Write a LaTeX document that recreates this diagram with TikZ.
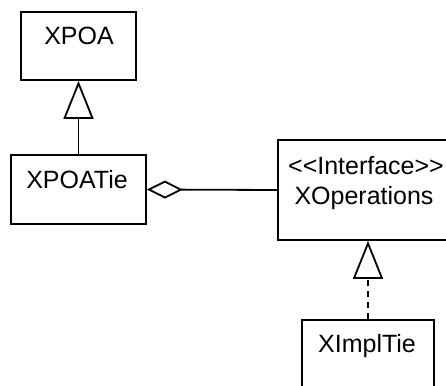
\documentclass[tikz,border=0pt]{standalone}
\usepackage{fontspec}
\setmainfont{Liberation Sans}
\usetikzlibrary{arrows.meta}
\begin{document}
\begin{tikzpicture}[x=1pt,y=-1pt,
  classbox/.style={draw=black,line width=1.8pt,rectangle,inner sep=0pt},
  lbl/.style={inner sep=0pt,anchor=base,font=\fontsize{25}{30}\selectfont},
  conn/.style={line width=1.8pt,draw=black},
  gen/.style={-{Triangle[open,length=38pt,width=30pt]}},
  agg/.style={{Diamond[open,length=36pt,width=18pt]}-},
  realize/.style={dash pattern=on 6pt off 5pt}]
\useasboundingbox (0,0) rectangle (446,385);
\clip (0,0) rectangle (446,385);
% classes
\node[classbox,minimum width=115pt,minimum height=68pt] (xpoa) at (78.5,46) {};
\node[lbl] (xpoa-t) at (79,45) {XPOA};
\node[classbox,minimum width=135pt,minimum height=69pt] (xpoatie) at (78.5,189.5) {};
\node[lbl] (xpoatie-t) at (77,188) {XPOATie};
\node[classbox,minimum width=180pt,minimum height=100pt] (xop) at (368,190) {};
\node[lbl] (xop-s) at (366,174) {<\kern0pt<Interface>\kern0pt>};
\node[lbl] (xop-t) at (364,204) {XOperations};
\node[classbox,minimum width=132pt,minimum height=69pt] (ximpl) at (368,354.5) {};
\node[lbl] (ximpl-t) at (367,352) {XImplTie};
% connectors
\draw[conn,gen] (xpoatie.north) -- (xpoa.south);
\draw[conn,agg] (xpoatie.east) -- (xop.west);
\draw[conn,realize,gen] (ximpl.north) -- (xop.south);
\end{tikzpicture}
\end{document}
